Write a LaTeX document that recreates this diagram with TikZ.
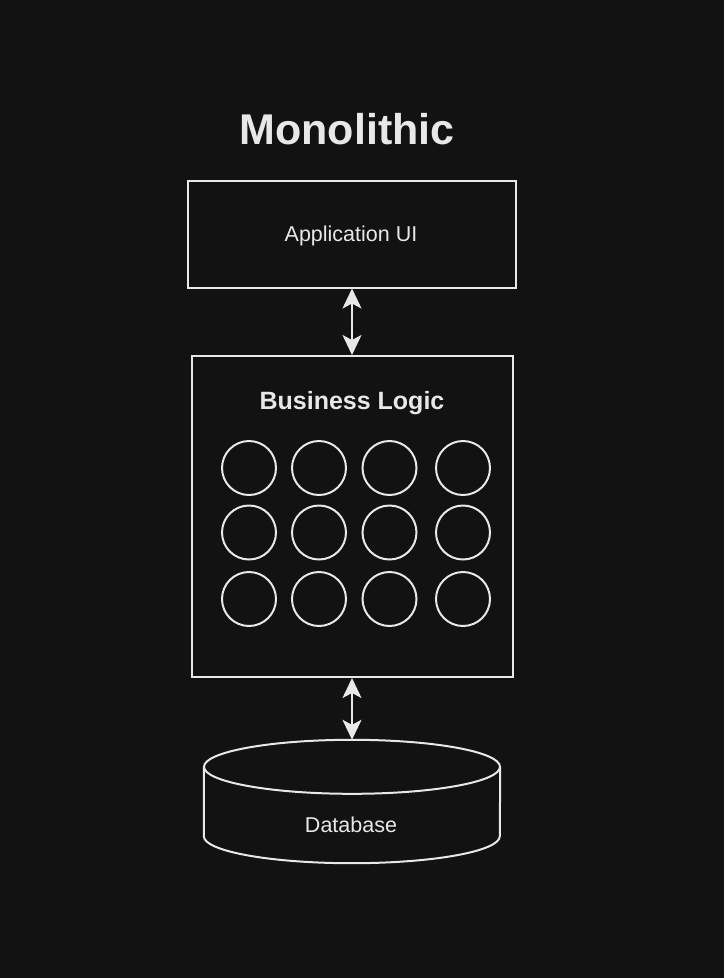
\documentclass[tikz,border=0pt]{standalone}
\usepackage{fontspec}
\setmainfont{Liberation Sans}
\usetikzlibrary{calc,arrows.meta}
\definecolor{bgcol}{HTML}{121212}
\definecolor{inkcol}{HTML}{E8E8E8}
\begin{document}
\begin{tikzpicture}[x=1pt,y=-1pt,
                    line/.style={draw=inkcol,line width=2pt},
                    block/.style={line,inner sep=0pt},
                    label/.style={text=inkcol,anchor=base,inner sep=0pt,font=\fontsize{21.5}{26}\selectfont},
                    module/.style={line,circle,minimum size=54pt,inner sep=0pt},
                    link/.style={draw=inkcol,line width=2pt,{Stealth[length=20pt,width=19pt,inset=5pt]}-{Stealth[length=20pt,width=19pt,inset=5pt]}}]
      \fill[bgcol] (0,0) rectangle (724,978);
      \useasboundingbox (0,0) rectangle (724,978);

      \node[label,font=\bfseries\fontsize{43}{50}\selectfont] (title) at (347,144) {Monolithic};

      \node[block,minimum width=328pt,minimum height=107pt] (ui) at (352,234) {};
      \node[label] (uitext) at (351,241.5) {Application UI};

      \node[block,minimum width=321pt,minimum height=321pt] (logic) at (352,516.5) {};
      \node[label,font=\bfseries\fontsize{25}{30}\selectfont] (logictext) at (352,409) {Business Logic};
      \foreach \cx [count=\i] in {249,319,389.5,463}
        \foreach \cy [count=\j] in {468,532.5,599}
          \node[module] (m\j\i) at (\cx,\cy) {};

      \node[minimum width=296pt,minimum height=123pt,inner sep=0pt] (db) at (352,801.5) {};
      \draw[line] ($(db.north)+(0,27)$) ellipse [x radius=148pt,y radius=27pt];
      \draw[line] ($(db.north west)+(0,27)$) -- ($(db.south west)+(0,-27)$)
        arc[start angle=180,end angle=360,x radius=148pt,y radius=27pt]
        -- ($(db.north east)+(0,27)$);
      \node[label] (dbtext) at (351,832) {Database};

      \draw[link] (ui) -- (logic);
      \draw[link] (logic) -- (db);
    \end{tikzpicture}
\end{document}
